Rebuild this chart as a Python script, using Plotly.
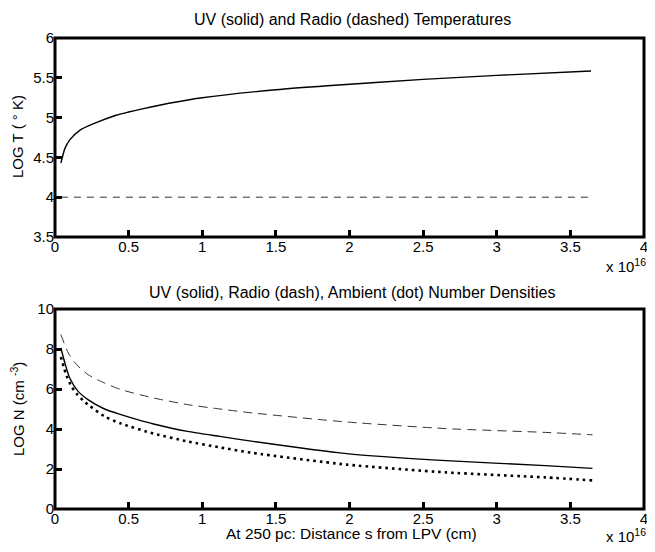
import plotly.graph_objects as go

# distance s in units of 1e16 cm
s_uv_t = [0.04, 0.067, 0.10, 0.168, 0.258, 0.415, 0.50, 0.594, 0.773, 1.0, 1.5, 1.85, 2.5, 3.0, 3.64]
logT_uv = [4.43, 4.61, 4.72, 4.84, 4.92, 5.03, 5.07, 5.11, 5.18, 5.25, 5.35, 5.40, 5.48, 5.53, 5.585]
s_radio_t = [0.04, 3.64]
logT_radio = [4.0, 4.0]

s_uv_n = [0.04, 0.067, 0.10, 0.157, 0.224, 0.336, 0.448, 0.56, 0.67, 0.90, 1.12, 1.345, 1.98, 2.655, 3.33, 3.65]
logN_uv = [8.05, 7.3, 6.55, 5.88, 5.47, 5.0, 4.72, 4.47, 4.25, 3.88, 3.63, 3.38, 2.77, 2.42, 2.17, 2.03]
s_radio_n = [0.04, 0.09, 0.146, 0.224, 0.336, 0.448, 0.67, 0.90, 1.12, 1.345, 1.98, 2.655, 3.33, 3.65]
logN_radio = [8.72, 7.8, 7.22, 6.72, 6.3, 5.97, 5.55, 5.22, 5.0, 4.8, 4.35, 4.02, 3.83, 3.71]
s_amb_n = [0.04, 0.078, 0.112, 0.152, 0.19, 0.224, 0.336, 0.448, 0.67, 0.90, 1.12, 1.345, 1.98, 2.655, 3.33, 3.65]
logN_amb = [7.6, 6.67, 6.13, 5.72, 5.43, 5.22, 4.63, 4.27, 3.77, 3.38, 3.08, 2.8, 2.22, 1.83, 1.58, 1.43]

xticks = [0, 0.5, 1, 1.5, 2, 2.5, 3, 3.5, 4]
xticklabels = ["0", "0.5", "1", "1.5", "2", "2.5", "3", "3.5", "4"]
yticks_t = [3.5, 4, 4.5, 5, 5.5, 6]
yticks_n = [0, 2, 4, 6, 8, 10]

OFF = 8  # default page body margin
W, H = 655 - 2 * OFF, 552 - 2 * OFF
FONT = "Liberation Sans, Arial, Helvetica, sans-serif"

fig = go.Figure()
fig.add_trace(go.Scatter(x=s_uv_t, y=logT_uv, mode="lines", line=dict(color="black", width=1.4, shape="spline", smoothing=0.6), xaxis="x", yaxis="y"))
fig.add_trace(go.Scatter(x=s_radio_t, y=logT_radio, mode="lines", line=dict(color="#333", width=1, dash="7px,6px"), xaxis="x", yaxis="y"))
fig.add_trace(go.Scatter(x=s_uv_n, y=logN_uv, mode="lines", line=dict(color="black", width=1.4, shape="spline", smoothing=0.6), xaxis="x2", yaxis="y2"))
fig.add_trace(go.Scatter(x=s_radio_n, y=logN_radio, mode="lines", line=dict(color="#333", width=1, dash="9px,6px", shape="spline", smoothing=0.6), xaxis="x2", yaxis="y2"))
fig.add_trace(go.Scatter(x=s_amb_n, y=logN_amb, mode="lines", line=dict(color="black", width=2.6, dash="2.6px,4px", shape="spline", smoothing=0.6), xaxis="x2", yaxis="y2"))

def px_x(p):
    return (p - OFF) / W

def px_y(p):
    return 1 - (p - OFF) / H

axis_common = dict(showline=False, ticks="inside", ticklen=7, tickwidth=2.5, tickcolor="black",
                   showgrid=False, zeroline=False, automargin=False,
                   tickfont=dict(family=FONT, size=15, color="black"))

xdom = [px_x(55), px_x(644)]
ydom_t = [px_y(237), px_y(38)]
ydom_n = [px_y(509), px_y(309)]
fig.update_layout(
    width=W, height=H,
    margin=dict(l=0, r=0, t=0, b=0, autoexpand=False),
    paper_bgcolor="white", plot_bgcolor="white",
    showlegend=False,
    font=dict(family=FONT, color="black"),
    xaxis=dict(domain=xdom, range=[0, 4], tickvals=xticks, ticktext=xticklabels, anchor="y",
               ticklabelstandoff=-1, ticklabeloverflow="allow", **axis_common),
    yaxis=dict(domain=ydom_t, range=[3.5, 6], tickvals=yticks_t, anchor="x", **axis_common),
    xaxis2=dict(domain=xdom, range=[0, 4], tickvals=xticks, ticktext=xticklabels, anchor="y2",
                ticklabelstandoff=-1, ticklabeloverflow="allow", **axis_common),
    yaxis2=dict(domain=ydom_n, range=[0, 10], tickvals=yticks_n, anchor="x2", **axis_common),
    # mirrored tick marks on top and right sides
    xaxis3=dict(domain=xdom, range=[0, 4], tickvals=xticks, overlaying="x", side="top", anchor="y",
                showticklabels=False, **axis_common),
    yaxis3=dict(domain=ydom_t, range=[3.5, 6], tickvals=yticks_t, overlaying="y", side="right", anchor="x",
                showticklabels=False, **axis_common),
    xaxis4=dict(domain=xdom, range=[0, 4], tickvals=xticks, overlaying="x2", side="top", anchor="y2",
                showticklabels=False, **axis_common),
    yaxis4=dict(domain=ydom_n, range=[0, 10], tickvals=yticks_n, overlaying="y2", side="right", anchor="x2",
                showticklabels=False, **axis_common),
)

# frame around each panel
for xr, yr in (("x domain", "y domain"), ("x2 domain", "y2 domain")):
    fig.add_shape(type="rect", xref=xr, yref=yr, x0=0, x1=1, y0=0, y1=1,
                  line=dict(color="black", width=3), fillcolor="rgba(0,0,0,0)", layer="above")

ann = []
ann.append(dict(text="UV (solid) and Radio (dashed) Temperatures", x=px_x(352), y=px_y(20), xref="paper", yref="paper",
                showarrow=False, font=dict(size=16), xanchor="center", yanchor="middle"))
ann.append(dict(text="UV (solid), Radio (dash), Ambient (dot) Number Densities", x=px_x(352), y=px_y(292), xref="paper", yref="paper",
                showarrow=False, font=dict(size=16), xanchor="center", yanchor="middle"))
ann.append(dict(text="LOG T ( \u00b0 K)", x=px_x(17), y=px_y(137), xref="paper", yref="paper", textangle=-90,
                showarrow=False, font=dict(size=15), xanchor="center", yanchor="middle"))
ann.append(dict(text="LOG N (cm <sup>-3</sup>)", x=px_x(17), y=px_y(409), xref="paper", yref="paper", textangle=-90,
                showarrow=False, font=dict(size=15), xanchor="center", yanchor="middle"))
ann.append(dict(text="At 250 pc: Distance s from LPV (cm)", x=px_x(351), y=px_y(533), xref="paper", yref="paper",
                showarrow=False, font=dict(size=15.5), xanchor="center", yanchor="middle"))
ann.append(dict(text="x 10<sup>16</sup>", x=1.0, y=px_y(265), xref="paper", yref="paper",
                showarrow=False, font=dict(size=15), xanchor="right", yanchor="middle", borderpad=0))
ann.append(dict(text="x 10<sup>16</sup>", x=1.0, y=px_y(535), xref="paper", yref="paper",
                showarrow=False, font=dict(size=15), xanchor="right", yanchor="middle", borderpad=0))
fig.update_layout(annotations=ann)

fig.write_html("out.html")
